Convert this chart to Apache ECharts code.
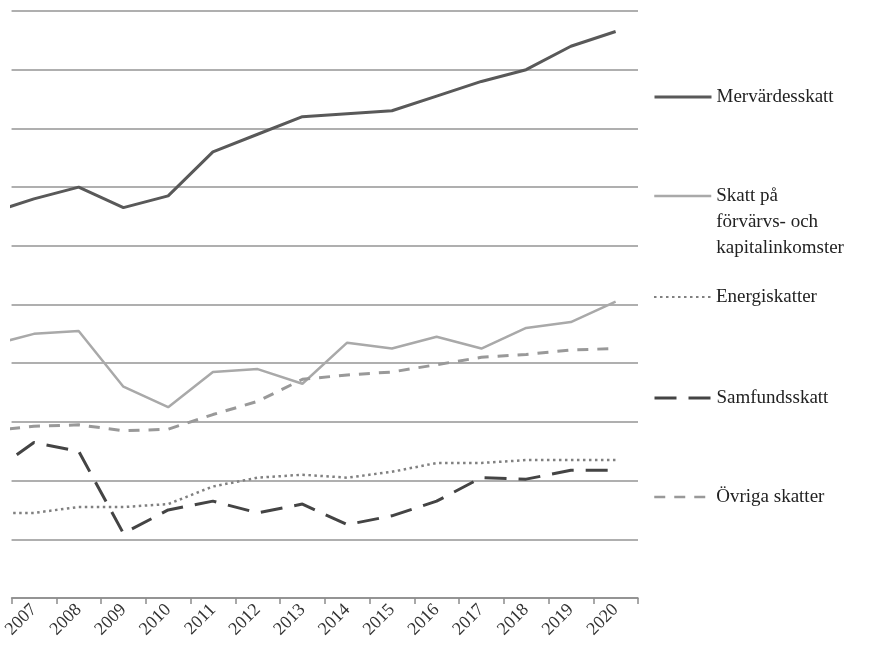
<!DOCTYPE html>
<html>
<head>
<meta charset="utf-8">
<script src="https://cdn.jsdelivr.net/npm/echarts@6/dist/echarts.min.js"></script>
<style>
  html, body { margin: 0; padding: 0; background: #fff; }
  #main { width: 896px; height: 664px; }
</style>
</head>
<body>
<div id="main"></div>
<script>
// years; 2006 sits left of the visible plot (cropped like the original)
var years = ['2006', '2007', '2008', '2009', '2010', '2011', '2012', '2013', '2014', '2015', '2016', '2017', '2018', '2019', '2020']

var mervardesskatt = [13.1, 13.6, 14.0, 13.3, 13.7, 15.2, 15.8, 16.4, 16.5, 16.6, 17.1, 17.6, 18.0, 18.8, 19.3]
var forvarvsKapital = [8.6, 9.0, 9.1, 7.2, 6.5, 7.7, 7.8, 7.3, 8.7, 8.5, 8.9, 8.5, 9.2, 9.4, 10.1]
var energiskatter = [2.9, 2.9, 3.1, 3.1, 3.2, 3.8, 4.1, 4.2, 4.1, 4.3, 4.6, 4.6, 4.7, 4.7, 4.7]
var samfundsskatt = [4.2, 5.3, 5.0, 2.2, 3.0, 3.3, 2.9, 3.2, 2.5, 2.8, 3.3, 4.1, 4.05, 4.35, 4.35]
var ovrigaSkatter = [5.7, 5.85, 5.9, 5.7, 5.75, 6.25, 6.7, 7.45, 7.6, 7.7, 7.95, 8.2, 8.3, 8.45, 8.5]

var serif = 'Liberation Serif'

var chartDom = document.getElementById('main')
var myChart = echarts.init(chartDom)

function legendAt (name, top, lineWidth, extra) {
  var lg = {
    data: [name],
    left: 653,
    top: top,
    padding: 0,
    orient: 'vertical',
    itemWidth: 57,
    itemHeight: 14,
    itemGap: 0,
    selectedMode: false,
    itemStyle: { opacity: 0 },
    lineStyle: { width: lineWidth },
    textStyle: { fontFamily: serif, fontSize: 19, color: '#222', lineHeight: 26 }
  }
  if (extra) {
    if (extra.rich) lg.textStyle.rich = extra.rich
    if (extra.formatter) lg.formatter = extra.formatter
  }
  return lg
}

var option = {
  animation: false,
  backgroundColor: '#fff',
  grid: {
    left: 11,
    right: 258,
    top: 11,
    bottom: 66
  },
  legend: [
    legendAt('Mervärdesskatt', 84, 3),
    legendAt('Skatt på förvärvs- och kapitalinkomster', 131, 2.5, {
      formatter: function () { return '{s| }\nSkatt på\nförvärvs- och\nkapitalinkomster' },
      rich: { s: { lineHeight: 52, height: 52, fontSize: 10 } }
    }),
    legendAt('Energiskatter', 284, 2),
    legendAt('Samfundsskatt', 385, 3),
    legendAt('Övriga skatter', 484, 2.5)
  ],
  xAxis: {
    type: 'category',
    data: years,
    min: 1,
    axisLine: { lineStyle: { color: '#8c8c8c', width: 1.5 } },
    axisTick: { show: true, length: 6, lineStyle: { color: '#8c8c8c', width: 1.5 } },
    axisLabel: {
      rotate: 45,
      interval: 0,
      margin: 9,
      fontFamily: serif,
      fontSize: 18,
      color: '#333'
    },
    splitLine: { show: false }
  },
  yAxis: {
    type: 'value',
    min: 0,
    max: 20,
    interval: 2,
    axisLabel: { show: false },
    axisLine: { show: false },
    axisTick: { show: false },
    splitLine: { lineStyle: { color: '#959595', width: 1.5 } }
  },
  series: [
    {
      name: 'Mervärdesskatt',
      type: 'line',
      symbol: 'none',
      data: mervardesskatt,
      lineStyle: { color: '#595959', width: 3 },
      itemStyle: { color: '#595959' }
    },
    {
      name: 'Skatt på förvärvs- och kapitalinkomster',
      type: 'line',
      symbol: 'none',
      data: forvarvsKapital,
      lineStyle: { color: '#a9a9a9', width: 2.5 },
      itemStyle: { color: '#a9a9a9' }
    },
    {
      name: 'Energiskatter',
      type: 'line',
      symbol: 'none',
      data: energiskatter,
      lineStyle: { color: '#808080', width: 2.5, type: [2.5, 3.5] },
      itemStyle: { color: '#808080' }
    },
    {
      name: 'Samfundsskatt',
      type: 'line',
      symbol: 'none',
      data: samfundsskatt,
      lineStyle: { color: '#444', width: 3, type: [22, 12] },
      itemStyle: { color: '#444' }
    },
    {
      name: 'Övriga skatter',
      type: 'line',
      symbol: 'none',
      data: ovrigaSkatter,
      lineStyle: { color: '#999', width: 3, type: [11, 9] },
      itemStyle: { color: '#999' }
    }
  ]
}

option && myChart.setOption(option)
</script>
</body>
</html>
